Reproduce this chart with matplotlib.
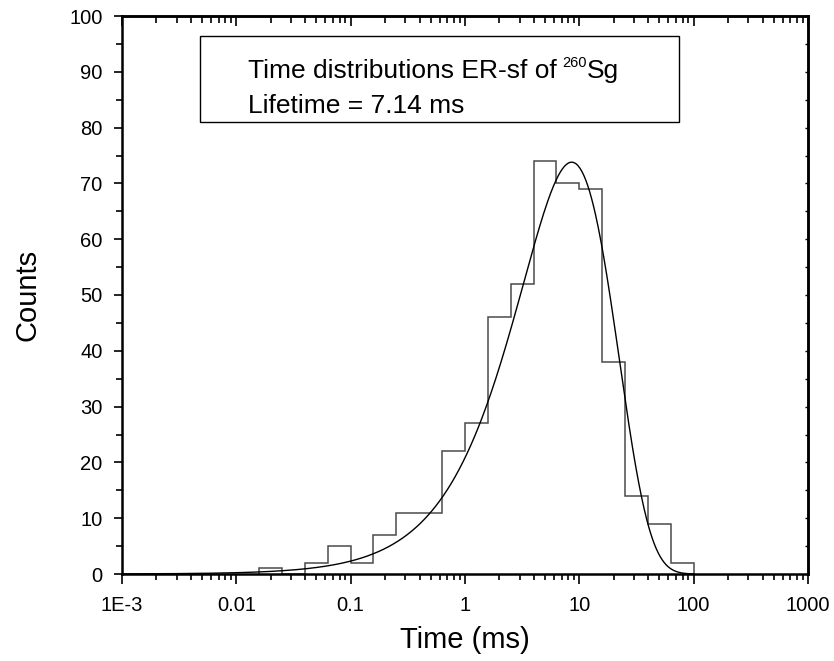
import numpy as np
import matplotlib
matplotlib.use('Agg')
import matplotlib.pyplot as plt
from matplotlib.patches import Rectangle
from matplotlib.ticker import FixedLocator, NullFormatter, MultipleLocator

plt.rcParams['font.family'] = ['Liberation Sans', 'DejaVu Sans']

# histogram of ER-sf time differences (5 log bins per decade)
bin_edges = [0.0158, 0.0251, 0.0398, 0.0631, 0.1, 0.158, 0.251, 0.398, 0.631,
             1.0, 1.58, 2.51, 3.98, 6.31, 10.0, 15.8, 25.1, 39.8, 63.1, 100.0]
counts = [1, 0, 2, 5, 2, 7, 11, 11, 22, 27, 46, 52, 74, 70, 69, 38, 14, 9, 2]

# fit curve (log-time decay distribution), as drawn
lifetime = 7.14
fit_peak_t = 8.57
fit_peak_n = 73.8

xtick_vals = [1e-3, 1e-2, 1e-1, 1, 10, 100, 1000]
xtick_labels = ['1E-3', '0.01', '0.1', '1', '10', '100', '1000']

fig = plt.figure(figsize=(8.34, 6.61), dpi=100)
ax = fig.add_axes([122/834, 1 - 574/661, 686/834, 558/661])

ax.stairs(counts, bin_edges, color='#4a4a4a', lw=1.1)

t = np.logspace(-3, 2, 600)
x = t / fit_peak_t
ax.plot(t, fit_peak_n * x * np.exp(1 - x), color='black', lw=1.0)

ax.set_xscale('log')
ax.set_xlim(1e-3, 1000)
ax.set_ylim(0, 100)
ax.set_xticks(xtick_vals)
ax.set_xticklabels(xtick_labels)
minors = [m * 10.0**d for d in range(-3, 3) for m in range(2, 10)]
ax.xaxis.set_minor_locator(FixedLocator(minors))
ax.xaxis.set_minor_formatter(NullFormatter())
ax.yaxis.set_major_locator(MultipleLocator(10))
ax.yaxis.set_minor_locator(MultipleLocator(5))

for s in ax.spines.values():
    s.set_linewidth(1.8)

ax.tick_params(axis='x', which='major', direction='out', length=7, width=1.2,
               labelsize=14.5, pad=9, top=False)
ax.tick_params(axis='x', which='minor', direction='out', length=4, width=1.2, top=False)
ax.tick_params(axis='y', which='major', direction='out', length=6, width=1.2,
               labelsize=14.5, pad=8, right=False)
ax.tick_params(axis='y', which='minor', direction='out', length=4, width=1.2, right=False)

# top axis: inward ticks, right axis: tiny ticks
axt = ax.secondary_xaxis('top')
axt.set_xticks(xtick_vals)
axt.xaxis.set_minor_locator(FixedLocator(minors))
axt.tick_params(which='major', direction='in', length=7, width=1.2, labeltop=False)
axt.tick_params(which='minor', direction='in', length=5, width=1.2)
axt.spines['top'].set_linewidth(1.8)
axr = ax.secondary_yaxis('right')
axr.yaxis.set_major_locator(MultipleLocator(10))
axr.yaxis.set_minor_locator(MultipleLocator(5))
axr.tick_params(which='both', direction='in', length=2, width=1.0, labelright=False)
axr.spines['right'].set_linewidth(1.8)

ax.set_xlabel('Time (ms)', fontsize=21, labelpad=8)
ax.set_ylabel('Counts', fontsize=21, labelpad=20)

ax.add_patch(Rectangle((0.1137, 0.8095), 0.698, 0.155, transform=ax.transAxes,
                       fill=False, edgecolor='black', lw=1.0))
t1 = ax.text(0.1837, 0.8884, 'Time distributions ER-sf of',
             transform=ax.transAxes, fontsize=19, va='baseline', ha='left')
t2 = ax.annotate('260', xy=(1, 0.55), xycoords=t1, xytext=(4, 0),
                 textcoords='offset points', fontsize=10.5,
                 va='bottom', ha='left')
ax.annotate('Sg', xy=(1, 0), xycoords=(t2, t1), fontsize=19,
            va='bottom', ha='left')
ax.text(0.1837, 0.8262, f'Lifetime = {lifetime} ms',
        transform=ax.transAxes, fontsize=19, va='baseline', ha='left')

fig.savefig('out.png', dpi=100)
